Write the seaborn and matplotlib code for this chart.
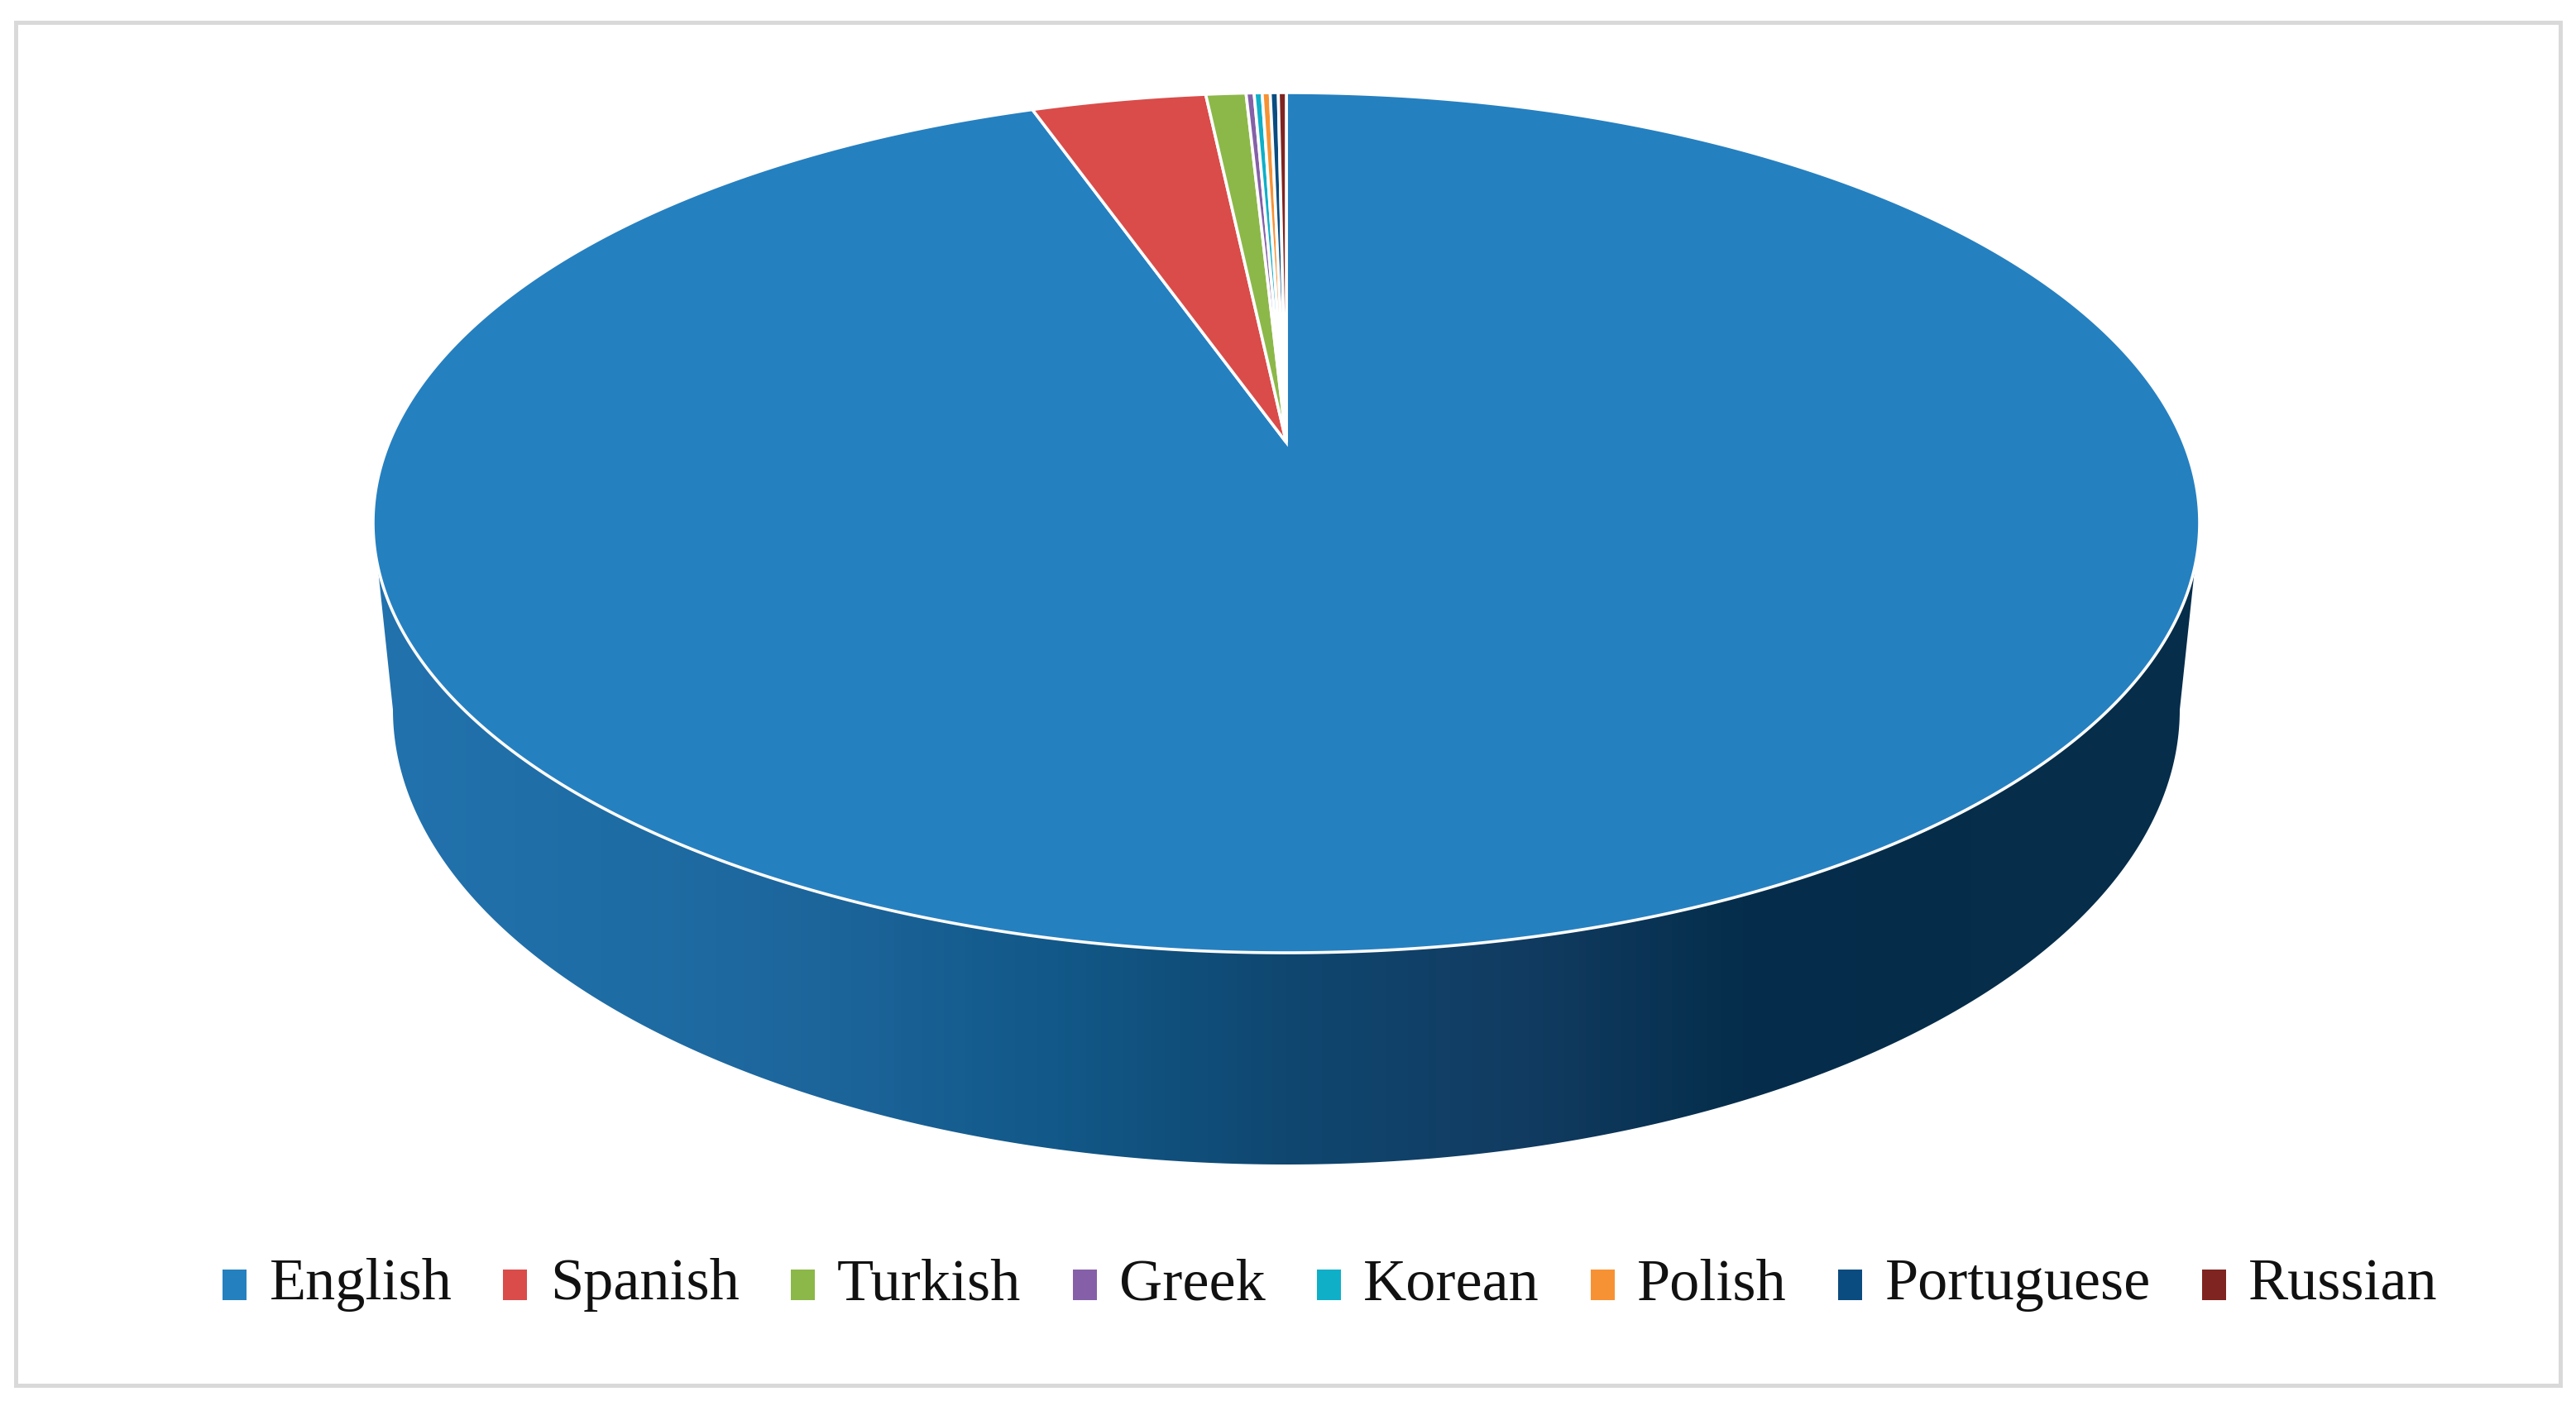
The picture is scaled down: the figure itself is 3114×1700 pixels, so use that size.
import numpy as np
import matplotlib
matplotlib.use("Agg")
import matplotlib.pyplot as plt
from matplotlib.patches import Patch, Polygon, Rectangle
import seaborn as sns

# Share of each language (percent)
languages = ["English", "Spanish", "Turkish", "Greek", "Korean", "Polish", "Portuguese", "Russian"]
shares = [94.6, 3.7, 0.85, 0.17, 0.17, 0.17, 0.17, 0.17]
slice_colors = ["#2580C0", "#D94C4A", "#8CB849", "#8560A8", "#0FAFC8", "#F79234", "#0A4C80", "#7F2420"]
wall_colors = ["#2272AE", "#1F6DA5", "#1C659B", "#125888", "#0F4770", "#123C62", "#052E4C", "#062D4A", "#062D4A"]

# Top face of the pie in pixels, apex sits above the ellipse centre because of the perspective
CX, CY, A, B = 1555, 632, 1104, 520
APEX_Y = 535
# Bottom rim of the pie
BOT_CY, BOT_A, BOT_B = 858, 1080, 550


def to_face(theta, r=1.0):
    # clockwise angle from 12 o'clock on the flat pie -> pixel on the tilted ellipse
    k = (CY - APEX_Y) / B
    x, y = r * np.sin(theta), r * np.cos(theta)
    d = 1 + k * y
    return CX + A * x * np.sqrt(1 - k ** 2) / d, CY - B * (y + k) / d


sns.set_theme(style="white")
plt.rcParams["font.family"] = ["Liberation Serif", "DejaVu Serif"]
palette = sns.color_palette(slice_colors)
wall_cmap = sns.blend_palette(wall_colors, n_colors=256, as_cmap=True)

fig = plt.figure(figsize=(31.14, 17), dpi=100, facecolor="white")
ax = fig.add_axes([0, 0, 1, 1])
ax.set_xlim(0, 3114)
ax.set_ylim(1700, 0)
ax.axis("off")

# grey frame
ax.add_patch(Rectangle((19, 27), 3076, 1648, fill=False, edgecolor="#D9D9D9", linewidth=3.6))

# side wall with a left to right gradient
t = np.linspace(0, np.pi, 300)
wall_xy = np.column_stack([CX + BOT_A * np.cos(t), BOT_CY + BOT_B * np.sin(t)])
wall_xy = np.vstack([wall_xy, [CX - A, CY], [CX + A, CY]])
wall = Polygon(wall_xy, closed=True, facecolor="none", edgecolor="none")
ax.add_patch(wall)
img = ax.imshow(np.linspace(0, 1, 512)[None, :], cmap=wall_cmap, aspect="auto",
                extent=(CX - A, CX + A, 1420, 620), zorder=1)
img.set_clip_path(wall)
ax.set_xlim(0, 3114)
ax.set_ylim(1700, 0)

# slices of the top face
edges = np.cumsum([0] + shares) / np.sum(shares) * 2 * np.pi
for i, name in enumerate(languages):
    th = np.linspace(edges[i], edges[i + 1], max(3, int((edges[i + 1] - edges[i]) * 200)))
    px, py = to_face(th)
    ax.fill(np.r_[CX, px], np.r_[APEX_Y, py], color=palette[i], edgecolor="white",
            linewidth=2.6, joinstyle="miter", zorder=3)

handles = [Patch(facecolor=palette[i], edgecolor="none", label=languages[i]) for i in range(len(languages))]
leg = ax.legend(handles=handles, ncol=8, loc="center", bbox_to_anchor=(1608, 1554),
                bbox_transform=ax.transData, frameon=False, fontsize=52, labelcolor="#111111",
                handlelength=0.4, handleheight=0.4, handletextpad=0.38, columnspacing=0.86,
                borderpad=0, borderaxespad=0)
# squares sit a bit lower next to the text
for p in leg.get_patches():
    p.set_y(p.get_y() - 5.5)

fig.savefig("out.png", dpi=100)
